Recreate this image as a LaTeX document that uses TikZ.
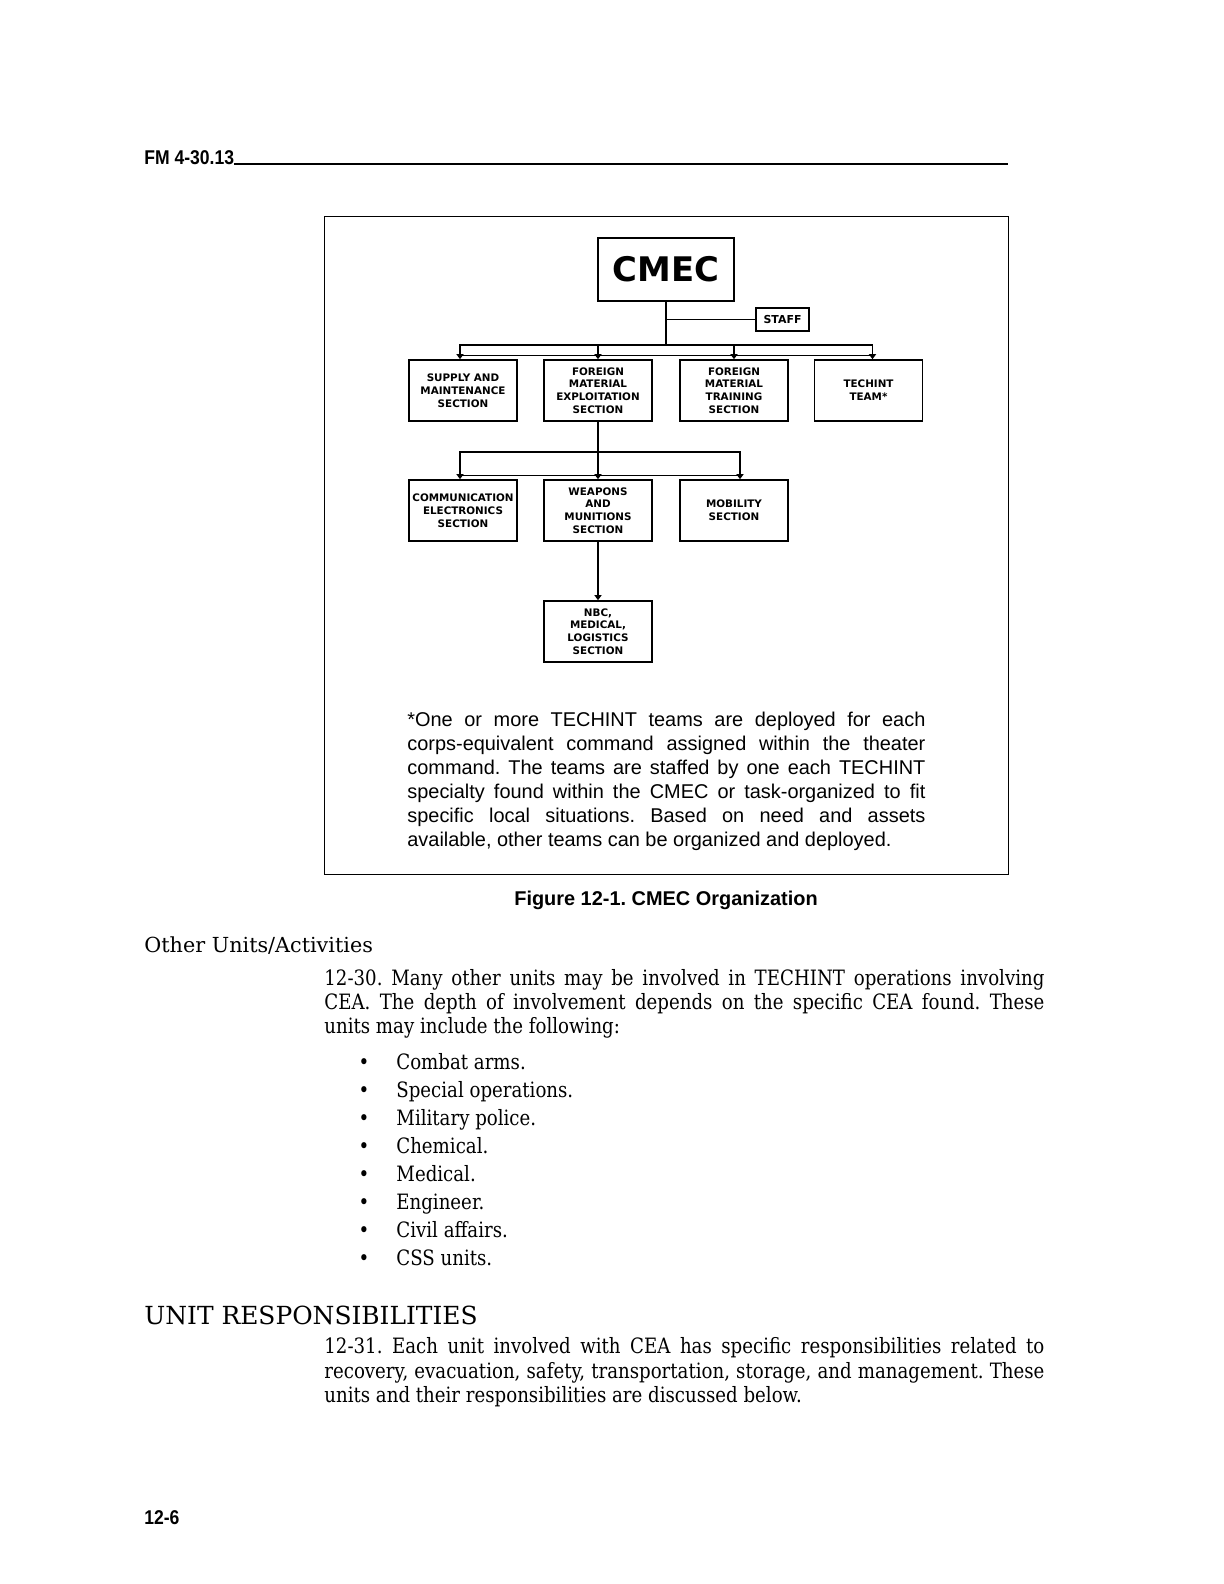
\documentclass[tikz,border=0pt]{standalone}
\usepackage{fontspec}
\setmainfont{DejaVu Serif}
\newfontfamily\bodyfam{DejaVu Serif}[FakeStretch=0.86]
\newfontfamily\sansf{Liberation Sans}
\newfontfamily\boxf{DejaVu Sans}
\newfontfamily\narrowf{Liberation Sans}[FakeStretch=0.88]
\usetikzlibrary{arrows.meta}
\frenchspacing
\newcommand{\bodyf}{\bodyfam\fontsize{10.6}{12}\selectfont\frenchspacing}
\newcommand{\jl}[1]{\makebox[360bp][s]{#1}}
\newcommand{\nl}[1]{\makebox[259bp][s]{#1}}
\begin{document}
\begin{tikzpicture}[x=0.5bp,y=-0.5bp,
  orgbox/.style={draw, line width=0.8bp, minimum width=54bp, minimum height=30.5bp, inner sep=0pt, align=center, font=\boxf\bfseries\fontsize{5.2}{6.4}\selectfont},
  conn/.style={line width=0.6bp},
  arr/.style={conn, -{Triangle[length=2.6bp,width=3.6bp]}},
  tipline/.style={line width=0.4bp},
  bodyline/.style={anchor=base west, inner sep=0pt, font=\bodyf},
  noteline/.style={anchor=base west, inner sep=0pt, font=\sansf\fontsize{10}{12}\selectfont\frenchspacing}]
\fill[white] (0,0) rectangle (1224,1584);
\path[use as bounding box] (0,0) rectangle (1224,1584);

% header
\node[anchor=base west, inner sep=0pt, font=\narrowf\bfseries\fontsize{10}{12}\selectfont] (hdr) at (144,164) {FM 4-30.13};
\coordinate (hdrend) at (1008,164);
\draw[line width=1bp] (hdr.base east) -- (hdrend);

% figure frame
\draw[line width=0.5bp] (324,216) rectangle (1008,874);

% chart
\node[orgbox, minimum width=68bp, minimum height=31.5bp, font=\boxf\bfseries\fontsize{17}{20}\selectfont] (cmec) at (666,269.5) {CMEC};
\node[orgbox, minimum width=26.5bp, minimum height=11.5bp, font=\boxf\bfseries\fontsize{5.5}{6.5}\selectfont] (staff) at (782.5,319.5) {STAFF};

\node[orgbox] (b1) at (463,390.5) {SUPPLY AND\\MAINTENANCE\\SECTION};
\node[orgbox] (b2) at (598,390.5) {FOREIGN\\MATERIAL\\EXPLOITATION\\SECTION};
\node[orgbox] (b3) at (734,390.5) {FOREIGN\\MATERIAL\\TRAINING\\SECTION};
\node[orgbox] (b4) at (868.5,390.5) {TECHINT\\TEAM*};

\node[orgbox] (c1) at (463,510.5) {COMMUNICATION\\ELECTRONICS\\SECTION};
\node[orgbox] (c2) at (598,510.5) {WEAPONS\\AND\\MUNITIONS\\SECTION};
\node[orgbox] (c3) at (734,510.5) {MOBILITY\\SECTION};

\node[orgbox] (d1) at (598,631.5) {NBC,\\MEDICAL,\\LOGISTICS\\SECTION};

\coordinate (j1) at (cmec.south |- 0,345);
\draw[conn] (cmec) -- (j1);
\draw[conn] (cmec.south |- staff.west) -- (staff.west);
\draw[arr] (j1) -| ([xshift=-1.5bp]b1.north);
\draw[arr] (j1) -| (b2);
\draw[arr] (j1) -| (b3);
\draw[arr] (j1) -| ([xshift=2bp]b4.north);
\draw[tipline] ([xshift=-1.5bp,yshift=2bp]b1.north) -- ([xshift=2bp,yshift=2bp]b4.north);

\coordinate (j2) at (b2.south |- 0,452);
\draw[conn] (b2) -- (j2);
\draw[arr] (j2) -| ([xshift=-1.5bp]c1.north);
\draw[arr] (j2) -- (c2);
\draw[arr] (j2) -| ([xshift=3bp]c3.north);
\draw[tipline] ([xshift=-1.5bp,yshift=2bp]c1.north) -- ([xshift=3bp,yshift=2bp]c3.north);

\draw[arr] (c2) -- (d1);

% note
\node[noteline] (n1) at (407,726) {\nl{*One or more TECHINT teams are deployed for each}};
\node[noteline] (n2) at (407,750) {\nl{corps-equivalent command assigned within the theater}};
\node[noteline] (n3) at (407,774) {\nl{command. The teams are staffed by one each TECHINT}};
\node[noteline] (n4) at (407,798) {\nl{specialty found within the CMEC or task-organized to fit}};
\node[noteline] (n5) at (407,822) {\nl{specific local situations. Based on need and assets}};
\node[noteline] (n6) at (407,846) {available, other teams can be organized and deployed.};

% caption
\node[anchor=base, inner sep=0pt, font=\sansf\bfseries\fontsize{10}{12}\selectfont] (cap) at (666,905) {Figure 12-1. CMEC Organization};

% body
\node[bodyline, font=\fontsize{10.4}{12}\selectfont] (h1) at (144,952) {Other Units/Activities};
\node[bodyline] (p1) at (324,985) {\jl{12-30. Many other units may be involved in TECHINT operations involving}};
\node[bodyline] (p2) at (324,1009) {\jl{CEA. The depth of involvement depends on the specific CEA found. These}};
\node[bodyline] (p3) at (324,1033) {units may include the following:};

\foreach \t [count=\i] in {Combat arms., Special operations., Military police., Chemical., Medical., Engineer., Civil affairs., CSS units.} {
  \node[anchor=base, inner sep=0pt, font=\bodyf] (bul\i) at (364,{1069+28*(\i-1)}) {\textbullet};
  \node[bodyline] (it\i) at (396,{1069+28*(\i-1)}) {\t};
}

\node[bodyline, font=\fontsize{12.5}{15}\selectfont] (h2) at (144,1324) {UNIT RESPONSIBILITIES};
\node[bodyline] (q1) at (324,1353) {\jl{12-31. Each unit involved with CEA has specific responsibilities related to}};
\node[bodyline] (q2) at (324,1378) {\jl{recovery, evacuation, safety, transportation, storage, and management. These}};
\node[bodyline] (q3) at (324,1402) {units and their responsibilities are discussed below.};

\node[anchor=base west, inner sep=0pt, font=\narrowf\bfseries\fontsize{10}{12}\selectfont] (pg) at (144,1524) {12-6};
\end{tikzpicture}
\end{document}
